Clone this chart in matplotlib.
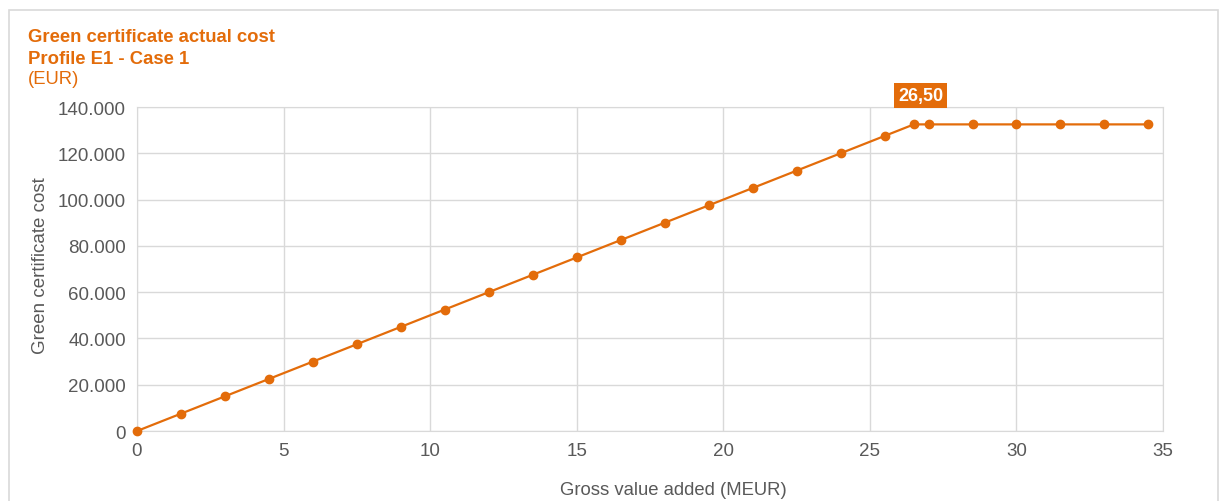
import matplotlib.pyplot as plt
from matplotlib.patches import Rectangle
from matplotlib.ticker import FuncFormatter

plt.rcParams['font.family'] = ['Liberation Sans', 'DejaVu Sans']

# data
gva = [0, 1.5, 3, 4.5, 6, 7.5, 9, 10.5, 12, 13.5, 15, 16.5, 18, 19.5, 21,
       22.5, 24, 25.5, 26.5, 27, 28.5, 30, 31.5, 33, 34.5]
cost = [0, 7500, 15000, 22500, 30000, 37500, 45000, 52500, 60000, 67500,
        75000, 82500, 90000, 97500, 105000, 112500, 120000, 127500, 132500,
        132500, 132500, 132500, 132500, 132500, 132500]
x_ticks = [0, 5, 10, 15, 20, 25, 30, 35]
y_ticks = [0, 20000, 40000, 60000, 80000, 100000, 120000, 140000]
threshold = 26.5

orange = '#E36C0A'
grid_col = '#D9D9D9'
text_col = '#595959'

fig = plt.figure(figsize=(12.23, 5.02), dpi=100)
ax = fig.add_axes([0.112, 0.1394, 0.839, 0.6454])

# outer card border
fig.patches.append(Rectangle((9 / 1223, -0.1), 1209 / 1223, 1 - 11 / 502 + 0.1,
                             transform=fig.transFigure, fill=False,
                             edgecolor=grid_col, linewidth=1.2))

ax.plot(gva, cost, color=orange, linewidth=1.6, marker='o', markersize=6,
        clip_on=False, zorder=3)

ax.set_xlim(0, 35)
ax.set_ylim(0, 140000)
ax.set_xticks(x_ticks)
ax.set_yticks(y_ticks)
ax.yaxis.set_major_formatter(FuncFormatter(lambda v, p: f'{int(v):,}'.replace(',', '.')))
ax.grid(True, color=grid_col, linewidth=1)
ax.set_axisbelow(True)
for s in ax.spines.values():
    s.set_color(grid_col)
ax.tick_params(length=0, labelsize=13.5, colors=text_col, pad=8)

ax.set_xlabel('Gross value added (MEUR)', fontsize=13.3, color=text_col, va='center')
ax.set_ylabel('Green certificate cost', fontsize=13.5, color=text_col, va='center')
ax.xaxis.set_label_coords(0.523, -0.179)
ax.yaxis.set_label_coords(-0.0945, 0.515)

# label for the threshold point
idx = gva.index(threshold)
ax.annotate(f'{threshold:.2f}'.replace('.', ','), (gva[idx], cost[idx]),
            xytext=(5, 21), textcoords='offset points', ha='center', va='center',
            fontsize=13, fontweight='bold', color='white',
            bbox=dict(boxstyle='square,pad=0.22', fc=orange, ec='none'))

fig.text(28 / 1223, 1 - 38 / 502, 'Green certificate actual cost', fontsize=13.3,
         fontweight='bold', color=orange, va='center')
fig.text(28 / 1223, 1 - 59 / 502, 'Profile E1 - Case 1', fontsize=13.3,
         fontweight='bold', color=orange, va='center')
fig.text(28 / 1223, 1 - 80 / 502, '(EUR)', fontsize=13.3, color=orange, va='center')

fig.savefig('out.png', dpi=100)
